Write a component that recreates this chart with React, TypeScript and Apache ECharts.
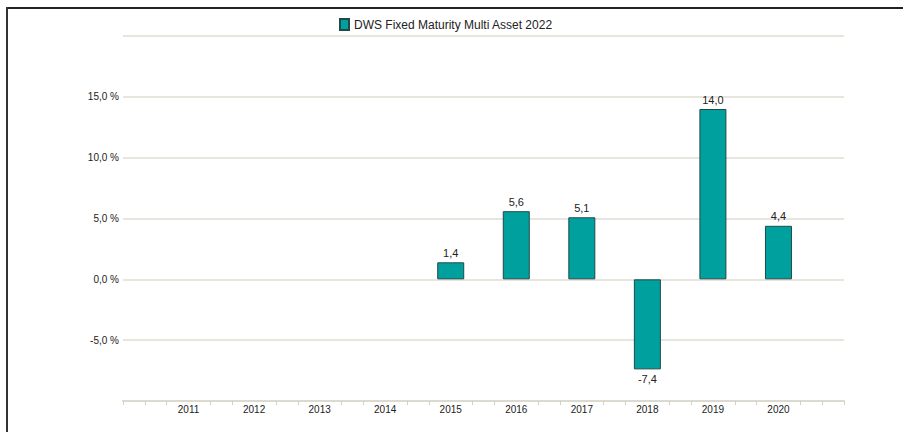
import React, { useEffect, useRef } from "react";
import * as echarts from "echarts";

const seriesName = "DWS Fixed Maturity Multi Asset 2022";
const years = [2015, 2016, 2017, 2018, 2019, 2020];
const values = [1.4, 5.6, 5.1, -7.4, 14.0, 4.4];
const xMin = 2010;
const xMax = 2021;
const yMin = -10;
const yMax = 20;
const yStep = 5;

const fmt = (v: number) => v.toFixed(1).replace(".", ",");

export default function App() {
  const ref = useRef<HTMLDivElement>(null);
  useEffect(() => {
    if (!ref.current) return;
    const chart = echarts.init(ref.current, undefined, { renderer: "svg" });
    const font = "'Liberation Sans', Arial, sans-serif";
    chart.setOption({
      animation: false,
      backgroundColor: "#ffffff",
      textStyle: { fontFamily: font },
      legend: {
        top: 13,
        left: 334,
        itemWidth: 9,
        itemHeight: 11,
        itemGap: 10,
        textStyle: { fontSize: 12, color: "#222", fontFamily: font },
        data: [{ name: seriesName, icon: "rect" }],
      },
      grid: { left: 123, right: 59, top: 36, bottom: 31, containLabel: false },
      xAxis: [
        {
          type: "value",
          min: xMin,
          max: xMax,
          interval: 1,
          axisLine: { show: true, onZero: false, lineStyle: { color: "#dcd9cf", width: 2 } },
          axisTick: { show: false },
          minorTick: { show: true, splitNumber: 3, length: 4, lineStyle: { color: "#d3d0c6", width: 1 } },
          splitLine: { show: false },
          axisLabel: {
            margin: 3,
            fontSize: 10,
            color: "#222",
            fontFamily: font,
            formatter: (v: number) => (v === xMin || v === xMax ? "" : String(v)),
          },
        },
        {
          type: "value",
          min: xMin,
          max: xMax,
          interval: xMax - xMin,
          position: "bottom",
          axisLine: { show: false, onZero: false },
          axisTick: { show: true, length: 4, lineStyle: { color: "#d3d0c6", width: 1 } },
          axisLabel: { show: false },
          splitLine: { show: false },
        },
      ],
      yAxis: {
        type: "value",
        min: yMin,
        max: yMax,
        interval: yStep,
        axisLine: { show: false },
        axisTick: { show: false },
        splitLine: { show: true, lineStyle: { color: "#e0ddd5", width: 1.5 } },
        axisLabel: {
          margin: 4,
          fontSize: 10,
          color: "#222",
          fontFamily: font,
          formatter: (v: number) => (v === yMin || v === yMax ? "" : fmt(v) + " %"),
        },
      },
      series: [
        {
          name: seriesName,
          type: "bar",
          xAxisIndex: 0,
          barWidth: 27,
          itemStyle: { color: "#00a09f", borderColor: "#1e4a4a", borderWidth: 1 },
          label: {
            show: true,
            fontSize: 11,
            color: "#222",
            fontFamily: font,
            distance: 4,
            formatter: (p: any) => fmt(p.value[1]),
          },
          data: years.map((y, i) => ({
            value: [y, values[i]],
            label: { position: values[i] < 0 ? "bottom" : "top" },
          })),
        },
      ],
      graphic: [
        { type: "line", shape: { x1: 6, y1: 8, x2: 903, y2: 8 }, style: { stroke: "#222", lineWidth: 2 } },
        { type: "line", shape: { x1: 7, y1: 7, x2: 7, y2: 432 }, style: { stroke: "#333", lineWidth: 2 } },
      ],
    });
    return () => chart.dispose();
  }, []);
  return <div ref={ref} style={{ position: "fixed", left: 0, top: 0, width: 903, height: 432 }} />;
}
